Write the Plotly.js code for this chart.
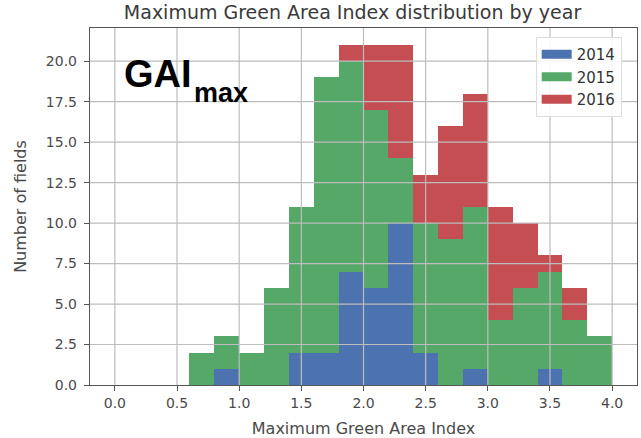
<!DOCTYPE html>
<html>
<head>
<meta charset="utf-8">
<script src="https://cdn.plot.ly/plotly-3.0.1.min.js"></script>
<style>
  html, body { margin: 0; padding: 0; background: #ffffff; }
  #chart { width: 641px; height: 438px; }
</style>
</head>
<body>
<div id="chart"></div>
<script>
// ---- data ----
const binCenters = [0.7, 0.9, 1.1, 1.3, 1.5, 1.7, 1.9, 2.1, 2.3, 2.5, 2.7, 2.9, 3.1, 3.3, 3.5, 3.7, 3.9];
const counts2014 = [0, 1, 0, 0, 2, 2, 7, 6, 10, 2, 0, 1, 0, 0, 1, 0, 0];
const counts2015 = [2, 2, 2, 6, 9, 17, 13, 11, 4, 8, 9, 10, 4, 6, 6, 4, 3];
const counts2016 = [0, 0, 0, 0, 0, 0, 1, 4, 7, 3, 7, 7, 7, 4, 1, 2, 0];
const seriesNames = ['2014', '2015', '2016'];
const xTicks = [0.0, 0.5, 1.0, 1.5, 2.0, 2.5, 3.0, 3.5, 4.0];
const xTickText = ['0.0', '0.5', '1.0', '1.5', '2.0', '2.5', '3.0', '3.5', '4.0'];
const yTicks = [0, 2.5, 5, 7.5, 10, 12.5, 15, 17.5, 20];
const yTickText = ['0.0', '2.5', '5.0', '7.5', '10.0', '12.5', '15.0', '17.5', '20.0'];

const colors = ['#4C72B0', '#55A868', '#C44E52'];
const allCounts = [counts2014, counts2015, counts2016];

const traces = [];
allCounts.forEach((c, i) => {
  traces.push({
    type: 'bar', x: binCenters, y: c, name: seriesNames[i],
    marker: { color: colors[i], line: { width: 0 } },
    showlegend: false, hoverinfo: 'x+y+name'
  });
});
// legend entries drawn as wide patches
allCounts.forEach((c, i) => {
  traces.push({
    type: 'scatter', mode: 'lines', x: [null], y: [null], name: seriesNames[i],
    line: { color: colors[i], width: 9 }, showlegend: true, hoverinfo: 'skip'
  });
});

const gridColor = '#bdbdbd';
const shapes = [];
xTicks.forEach(t => shapes.push({
  type: 'line', xref: 'x', yref: 'paper', x0: t, x1: t, y0: 0, y1: 1,
  line: { color: gridColor, width: 1.2 }, layer: 'above'
}));
yTicks.filter(t => t > 0).forEach(t => shapes.push({
  type: 'line', xref: 'paper', yref: 'y', x0: 0, x1: 1, y0: t, y1: t,
  line: { color: gridColor, width: 1.2 }, layer: 'above'
}));

const axisFont = { family: 'DejaVu Sans', size: 14, color: '#4a4a4a' };

const layout = {
  width: 641, height: 438,
  margin: { l: 90, r: 4, t: 28, b: 53, pad: 0 },
  paper_bgcolor: '#ffffff', plot_bgcolor: '#ffffff',
  barmode: 'stack', bargap: 0,
  title: {
    text: 'Maximum Green Area Index distribution by year',
    font: { family: 'DejaVu Sans', size: 19, color: '#3a3a3a' },
    x: 0.55, xanchor: 'center', y: 0.972, yref: 'container', yanchor: 'middle'
  },
  xaxis: {
    range: [-0.2, 4.2], tickmode: 'array', tickvals: xTicks, ticktext: xTickText,
    showgrid: false, zeroline: false, showline: true, mirror: true,
    linecolor: '#555', linewidth: 1.2, ticks: 'outside', ticklen: 5, tickcolor: '#555',
    tickfont: axisFont,
    title: { text: 'Maximum Green Area Index', font: { family: 'DejaVu Sans', size: 16, color: '#4a4a4a' }, standoff: 12 }
  },
  yaxis: {
    range: [0, 22.05], tickmode: 'array', tickvals: yTicks, ticktext: yTickText,
    showgrid: false, zeroline: false, showline: true, mirror: true,
    linecolor: '#555', linewidth: 1.2, ticks: 'outside', ticklen: 5, tickcolor: '#555',
    tickfont: axisFont, ticklabelstandoff: 4,
    title: { text: 'Number of fields', font: { family: 'DejaVu Sans', size: 16, color: '#4a4a4a' }, standoff: 15 }
  },
  legend: {
    x: 0.972, xanchor: 'right', y: 0.975, yanchor: 'top', traceorder: 'normal',
    bgcolor: 'rgba(255,255,255,0.85)', bordercolor: '#dddddd', borderwidth: 1,
    font: { family: 'DejaVu Sans', size: 15, color: '#333' }
  },
  shapes: shapes,
  annotations: [
    { text: '<b>GAI</b>', xref: 'paper', yref: 'paper', x: 0.0585, y: 0.871,
      xanchor: 'left', yanchor: 'middle', showarrow: false,
      font: { family: 'Liberation Sans', size: 38, color: '#000' } },
    { text: '<b>max</b>', xref: 'paper', yref: 'paper', x: 0.186, y: 0.818,
      xanchor: 'left', yanchor: 'middle', showarrow: false,
      font: { family: 'Liberation Sans', size: 27, color: '#000' } }
  ]
};

Plotly.newPlot('chart', traces, layout, { displayModeBar: false, staticPlot: true });
</script>
</body>
</html>
